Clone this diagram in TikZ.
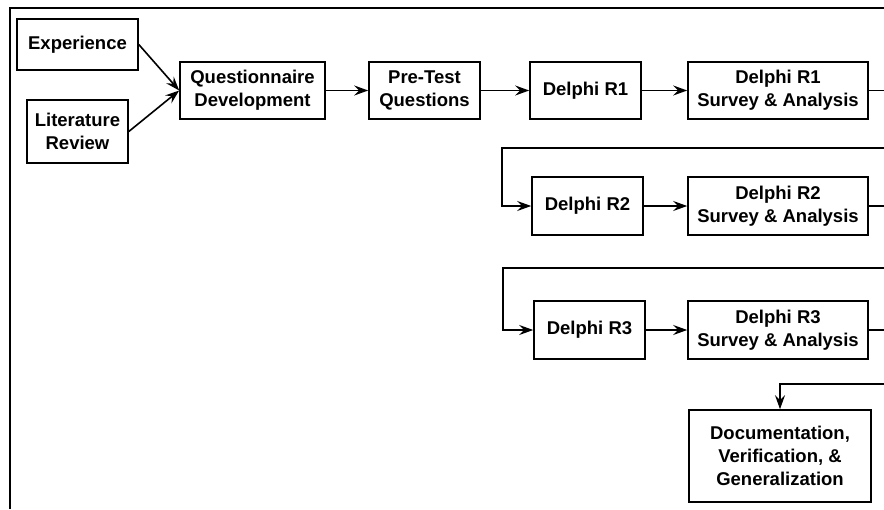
\documentclass[tikz,border=0pt]{standalone}
\usepackage{fontspec}
\setmainfont{Liberation Sans}
\usetikzlibrary{arrows.meta}

\begin{document}
\begin{tikzpicture}[x=1pt,y=-1pt]
    \tikzstyle{B}=[draw,line width=1.6pt,align=center,inner sep=0pt,font=\bfseries\fontsize{18.5}{23}\selectfont]
    \tikzstyle{A}=[line width=1.6pt,-{Stealth[length=14pt,width=10pt,inset=5pt]}]

   \useasboundingbox (0,0) rectangle (884,509);
   \draw [line width=1.6pt] (10,509) -- (10,8) -- (884,8);

   \node [B,minimum width=121pt,minimum height=51pt] (exp) at (77.5,44.5) {Experience};
   \node [B,minimum width=101pt,minimum height=63pt] (lit) at (77.5,131.5) {Literature\\Review};
   \node [B,minimum width=145pt,minimum height=57pt] (quest) at (252.5,90.5) {Questionnaire\\Development};
   \node [B,minimum width=111pt,minimum height=57pt] (pre) at (424.5,90.5) {Pre-Test\\Questions};
   \node [B,minimum width=111pt,minimum height=57pt] (r1) at (585.5,90.5) {Delphi R1};
   \node [B,minimum width=180pt,minimum height=57pt] (s1) at (778,90.5) {Delphi R1\\Survey \& Analysis};
   \node [B,minimum width=111pt,minimum height=58pt] (r2) at (587.5,206) {Delphi R2};
   \node [B,minimum width=180pt,minimum height=58pt] (s2) at (778,206) {Delphi R2\\Survey \& Analysis};
   \node [B,minimum width=111pt,minimum height=58pt] (r3) at (589.5,330) {Delphi R3};
   \node [B,minimum width=180pt,minimum height=58pt] (s3) at (778,330) {Delphi R3\\Survey \& Analysis};
   \node [B,minimum width=182pt,minimum height=92pt] (doc) at (780,456) {Documentation,\\Verification, \&\\Generalization};

   \coordinate (o1) at (884,90.5);
   \coordinate (o2) at (884,206);
   \coordinate (o3) at (884,330);
   \coordinate (t2) at (884,148);
   \coordinate (k2) at (502,148);
   \coordinate (t3) at (884,268);
   \coordinate (k3) at (503,268);
   \coordinate (t4) at (884,384);

   \draw [A] (exp.east) -- (quest.west);
   \draw [A] (lit.east) -- (quest.west);
   \draw [A] (quest) -- (pre);
   \draw [A] (pre) -- (r1);
   \draw [A] (r1) -- (s1);
   \draw [line width=1.6pt] (s1) -- (o1);
   \draw [A] (t2) -- (k2) |- (r2);
   \draw [A] (r2) -- (s2);
   \draw [line width=1.6pt] (s2) -- (o2);
   \draw [A] (t3) -- (k3) |- (r3);
   \draw [A] (r3) -- (s3);
   \draw [line width=1.6pt] (s3) -- (o3);
   \draw [A] (t4) -| (doc);
\end{tikzpicture}
\end{document}
